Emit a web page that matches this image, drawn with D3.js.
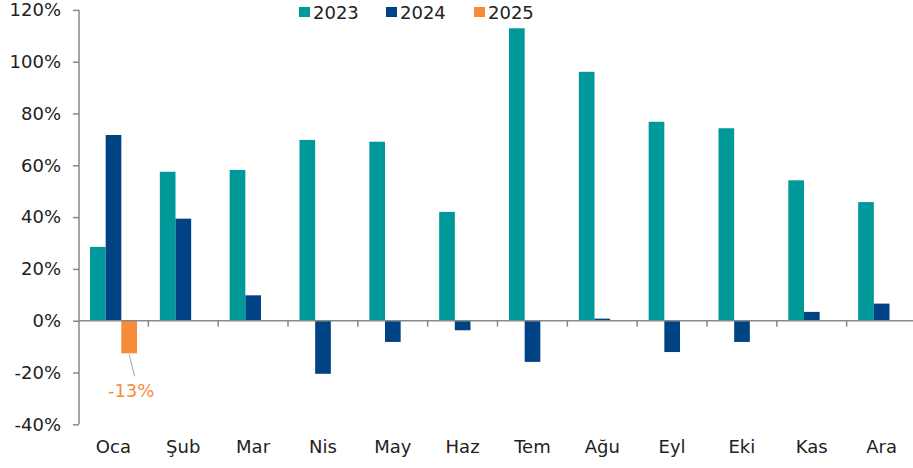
<!DOCTYPE html>
<html>
<head>
<meta charset="utf-8">
<script src="https://cdn.jsdelivr.net/npm/d3@7"></script>
<style>
  body { margin: 0; background: #fff; }
  svg { display: block; font-family: "DejaVu Sans", sans-serif; }
</style>
</head>
<body>
<div id="chart"></div>
<script>
// Aylar ve seriler
const MONTHS = ["Oca", "Şub", "Mar", "Nis", "May", "Haz", "Tem", "Ağu", "Eyl", "Eki", "Kas", "Ara"];
const YEARS = ["2023", "2024", "2025"];
const VALUES_2023 = [28.5, 57.5, 58.2, 69.8, 69.1, 42.0, 112.9, 96.1, 76.8, 74.3, 54.2, 45.8];
const VALUES_2024 = [71.7, 39.4, 9.8, -20.5, -8.2, -3.7, -15.9, 0.8, -12.1, -8.2, 3.4, 6.6];
const VALUES_2025 = [-12.6];
const Y_TICKS = [-40, -20, 0, 20, 40, 60, 80, 100, 120];
const LABEL_2025 = "-13%";

const WIDTH = 913;
const HEIGHT = 468;

const COLORS = d3.scaleOrdinal().domain(YEARS).range(["#009999", "#004384", "#f68b3c"]);

const SVG = d3.select("#chart").append("svg")
    .attr("width", WIDTH)
    .attr("height", HEIGHT);

const escalaY = d3.scaleLinear().domain([-40, 120]).range([424.3, 9.9]);
const escalaX0 = d3.scaleBand().domain(MONTHS).range([78.5, 916.5]).padding(0);
const escalaX1 = d3.scaleBand().domain(YEARS).range([11.5, 58.5]).padding(0);

// datos en formato largo
const series = {"2023": VALUES_2023, "2024": VALUES_2024, "2025": VALUES_2025};
const data = [];
YEARS.forEach(y => {
    series[y].forEach((v, i) => data.push({month: MONTHS[i], year: y, value: v}));
});

// barras
SVG.append("g")
    .selectAll("rect")
    .data(data)
    .join("rect")
    .attr("x", d => escalaX0(d.month) + escalaX1(d.year))
    .attr("width", escalaX1.bandwidth())
    .attr("y", d => escalaY(Math.max(0, d.value)))
    .attr("height", d => Math.abs(escalaY(d.value) - escalaY(0)))
    .attr("fill", d => COLORS(d.year));

// eje Y
const ejeY = d3.axisLeft(escalaY)
    .tickValues(Y_TICKS)
    .tickSize(6)
    .tickPadding(12)
    .tickFormat(d => d + "%");

const gY = SVG.append("g")
    .attr("transform", "translate(79,0)")
    .call(ejeY);
gY.select(".domain").attr("stroke", "#898989").attr("stroke-width", 1.5).attr("d", `M0,${escalaY(120)}V${escalaY(-40)}`);
gY.selectAll(".tick line").attr("stroke", "#898989").attr("stroke-width", 1.5);
gY.selectAll(".tick text")
    .attr("fill", "#222")
    .style("font-size", "18px")
    .style("font-family", "DejaVu Sans, sans-serif");

// eje X en cero
const y0 = escalaY(0);
SVG.append("line")
    .attr("x1", 79).attr("x2", WIDTH)
    .attr("y1", y0).attr("y2", y0)
    .attr("stroke", "#898989")
    .attr("stroke-width", 1.5);

SVG.append("g")
    .selectAll("line")
    .data(MONTHS.slice(1))
    .join("line")
    .attr("x1", d => escalaX0(d)).attr("x2", d => escalaX0(d))
    .attr("y1", y0).attr("y2", y0 + 6)
    .attr("stroke", "#898989")
    .attr("stroke-width", 1.5);

// etiquetas de meses
SVG.append("g")
    .selectAll("text")
    .data(MONTHS)
    .join("text")
    .attr("x", d => escalaX0(d) + escalaX0.bandwidth() / 2)
    .attr("y", 453)
    .attr("text-anchor", "middle")
    .attr("fill", "#222")
    .style("font-size", "18px")
    .text(d => d);

// etiqueta -13%
const barra2025 = data.find(d => d.year === "2025");
const bx = escalaX0(barra2025.month) + escalaX1("2025") + escalaX1.bandwidth() / 2;
const by = escalaY(barra2025.value);
SVG.append("line")
    .attr("x1", bx).attr("y1", by + 1)
    .attr("x2", bx + 5.5).attr("y2", by + 23)
    .attr("stroke", "#b5b5b5")
    .attr("stroke-width", 1.2);
SVG.append("text")
    .attr("x", bx + 2)
    .attr("y", by + 44)
    .attr("text-anchor", "middle")
    .attr("fill", "#f68b3c")
    .style("font-size", "18px")
    .text(LABEL_2025);

// leyenda
const LEGEND_X = [299, 386, 474];
const leyenda = SVG.append("g")
    .selectAll("g")
    .data(YEARS)
    .join("g")
    .attr("transform", (d, i) => `translate(${LEGEND_X[i]},0)`);
leyenda.append("rect")
    .attr("x", 0).attr("y", 7)
    .attr("width", 11).attr("height", 10)
    .attr("fill", d => COLORS(d));
leyenda.append("text")
    .attr("x", 14)
    .attr("y", 18.5)
    .attr("fill", "#222")
    .style("font-size", "18px")
    .text(d => d);
</script>
</body>
</html>
